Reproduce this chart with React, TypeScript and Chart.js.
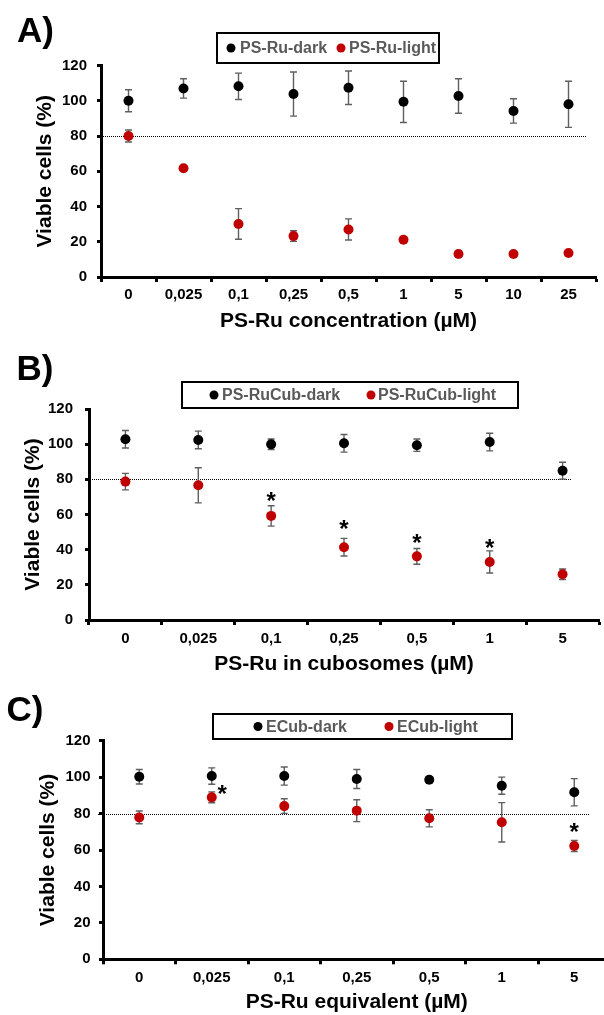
import React, { useEffect, useRef } from "react";
import { Chart, registerables } from "chart.js";

Chart.register(...registerables);

// ---------- DATA ----------
const concentrationsA = ["0", "0,025", "0,1", "0,25", "0,5", "1", "5", "10", "25"];
const psRuDark = [100, 107, 108.2, 103.8, 107.4, 99.4, 102.7, 94.2, 98];
const psRuDarkErr = [6.2, 5.5, 7.5, 12.5, 9.5, 11.7, 9.8, 6.9, 13.1];
const psRuLight = [80, 61.7, 30.1, 23.2, 27, 21.1, 13.1, 13, 13.6];
const psRuLightErr = [3.4, 1, 8.7, 3, 6, 1.5, 1.5, 1, 1];

const concentrationsB = ["0", "0,025", "0,1", "0,25", "0,5", "1", "5"];
const psRuCubDark = [102.8, 102.4, 99.9, 100.5, 99.4, 101.2, 84.9];
const psRuCubDarkErr = [5, 5, 3, 5, 3.5, 5, 4.8];
const psRuCubLight = [78.7, 76.6, 59.2, 41.4, 36.2, 33, 26];
const psRuCubLightErr = [4.7, 10, 5.8, 5, 4.5, 6.3, 3];
const starsB = [null, null, 71, 55, 47, 44, null];

const concentrationsC = ["0", "0,025", "0,1", "0,25", "0,5", "1", "5"];
const eCubDark = [100.2, 100.6, 100.6, 99, 98.6, 95.3, 91.7];
const eCubDarkErr = [4, 4.5, 5, 5.2, 1.2, 4.7, 7.5];
const eCubLight = [77.9, 88.9, 84.1, 81.6, 77.4, 75.2, 62.2];
const eCubLightErr = [3.5, 3, 4, 6, 4.7, 10.8, 3];
const starsC = [null, 94, null, null, null, null, 73];

const yMin = 0;
const yMax = 120;
const yStep = 20;
const referenceLine = 80;

// ---------- STYLE ----------
const FONT = "'Liberation Sans', Arial, sans-serif";
const DARK = "#000000";
const RED = "#C00000";
const ERR = "#5f5f5f";

type Panel = {
  letter: string;
  xTitle: string;
  labels: string[];
  datasets: { label: string; data: number[]; errors: number[]; color: string }[];
  stars: (number | null)[];
  top: number;
  width: number;
  height: number;
  padding: { top: number; right: number; bottom: number; left: number };
  yWidth: number;
  xHeight: number;
  xTitlePad: number;
  yTitlePad: number;
  yTickPad: number;
  xTickPad: number;
  letterX: number;
  letterBase: number;
  legendBox: [number, number, number, number];
  legendMarkers: number[];
  legendTexts: number[];
  refStartOff: number;
  refEnd: number;
  starDx: Record<number, number>;
};

const panels: Panel[] = [
  {
    letter: "A)",
    xTitle: "PS-Ru concentration (µM)",
    labels: concentrationsA,
    datasets: [
      { label: "PS-Ru-dark", data: psRuDark, errors: psRuDarkErr, color: DARK },
      { label: "PS-Ru-light", data: psRuLight, errors: psRuLightErr, color: RED },
    ],
    stars: concentrationsA.map(() => null),
    top: 0,
    width: 604,
    height: 340,
    padding: { top: 65.5, right: 8, bottom: 0, left: 0 },
    yWidth: 101,
    xHeight: 63,
    xTitlePad: 6.4,
    yTitlePad: 33,
    yTickPad: 10,
    xTickPad: 4,
    letterX: 17,
    letterBase: 41.7,
    legendBox: [217, 33, 222, 30],
    legendMarkers: [231, 341],
    legendTexts: [240, 349],
    refStartOff: 0,
    refEnd: 586,
    starDx: {},
  },
  {
    letter: "B)",
    xTitle: "PS-Ru in cubosomes (µM)",
    labels: concentrationsB,
    datasets: [
      { label: "PS-RuCub-dark", data: psRuCubDark, errors: psRuCubDarkErr, color: DARK },
      { label: "PS-RuCub-light", data: psRuCubLight, errors: psRuCubLightErr, color: RED },
    ],
    stars: starsB,
    top: 340,
    width: 604,
    height: 340,
    padding: { top: 69, right: 3, bottom: 0, left: 0 },
    yWidth: 89,
    xHeight: 60,
    xTitlePad: 3.4,
    yTitlePad: 20.4,
    yTickPad: 12,
    xTickPad: 5,
    letterX: 16.5,
    letterBase: 40,
    legendBox: [182, 42, 336, 26],
    legendMarkers: [214, 371],
    legendTexts: [222, 378],
    refStartOff: 3,
    refEnd: 572,
    starDx: {},
  },
  {
    letter: "C)",
    xTitle: "PS-Ru equivalent (µM)",
    labels: concentrationsC,
    datasets: [
      { label: "ECub-dark", data: eCubDark, errors: eCubDarkErr, color: DARK },
      { label: "ECub-light", data: eCubLight, errors: eCubLightErr, color: RED },
    ],
    stars: starsC,
    top: 680,
    width: 620,
    height: 335,
    padding: { top: 60.7, right: 9.5, bottom: 0, left: 0 },
    yWidth: 103,
    xHeight: 55.7,
    xTitlePad: 0,
    yTitlePad: 35.4,
    yTickPad: 8.5,
    xTickPad: 4.7,
    letterX: 6.5,
    letterBase: 40.7,
    legendBox: [213, 34, 299, 25],
    legendMarkers: [258, 389],
    legendTexts: [266, 397],
    refStartOff: -5,
    refEnd: 590,
    starDx: { 1: 10.5 },
  },
];

function makeDecor(p: Panel) {
  return {
    id: "decor",
    beforeDatasetsDraw(chart: any) {
      const ctx = chart.ctx as CanvasRenderingContext2D;
      const ys = chart.scales.y;
      const area = chart.chartArea;
      // reference dotted line
      const py = Math.round(ys.getPixelForValue(referenceLine)) + 0.5;
      ctx.save();
      ctx.strokeStyle = "#000";
      ctx.lineWidth = 1;
      ctx.setLineDash([1, 1]);
      ctx.beginPath();
      ctx.moveTo(area.left + p.refStartOff, py);
      ctx.lineTo(p.refEnd, py);
      ctx.stroke();
      ctx.restore();
      // error bars
      ctx.save();
      ctx.strokeStyle = ERR;
      ctx.lineWidth = 1.4;
      p.datasets.forEach((ds, di) => {
        const meta = chart.getDatasetMeta(di);
        ds.data.forEach((v, i) => {
          const e = ds.errors[i];
          const el = meta.data[i];
          if (!el || !e) return;
          const x = el.x;
          const t = ys.getPixelForValue(v + e);
          const b = ys.getPixelForValue(v - e);
          ctx.beginPath();
          ctx.moveTo(x, t);
          ctx.lineTo(x, b);
          ctx.moveTo(x - 3.5, t);
          ctx.lineTo(x + 3.5, t);
          ctx.moveTo(x - 3.5, b);
          ctx.lineTo(x + 3.5, b);
          ctx.stroke();
        });
      });
      ctx.restore();
    },
    afterDraw(chart: any) {
      const ctx = chart.ctx as CanvasRenderingContext2D;
      const ys = chart.scales.y;
      const xs = chart.scales.x;
      ctx.save();
      // panel letter
      ctx.fillStyle = "#000";
      ctx.font = `bold 35px ${FONT}`;
      ctx.textBaseline = "alphabetic";
      ctx.textAlign = "left";
      ctx.fillText(p.letter, p.letterX, p.letterBase);
      // legend
      const [bx, by, bw, bh] = p.legendBox;
      ctx.strokeStyle = "#000";
      ctx.lineWidth = 2;
      ctx.strokeRect(bx, by, bw, bh);
      const cy = by + bh / 2;
      p.datasets.forEach((ds, i) => {
        ctx.fillStyle = ds.color;
        ctx.beginPath();
        ctx.arc(p.legendMarkers[i], cy, 4.5, 0, Math.PI * 2);
        ctx.fill();
        ctx.fillStyle = "#595959";
        ctx.font = `bold 16px ${FONT}`;
        ctx.textBaseline = "middle";
        ctx.fillText(ds.label, p.legendTexts[i], cy + 1);
      });
      // stars
      ctx.fillStyle = "#000";
      ctx.font = `bold 24px ${FONT}`;
      ctx.textAlign = "center";
      ctx.textBaseline = "alphabetic";
      p.stars.forEach((s, i) => {
        if (s == null) return;
        const x = xs.getPixelForValue(i) + (p.starDx[i] || 0);
        const y = ys.getPixelForValue(s);
        ctx.fillText("*", x, y + 24 * 0.57);
      });
      ctx.restore();
    },
  };
}

function PanelChart({ p }: { p: Panel }) {
  const ref = useRef<HTMLCanvasElement>(null);
  useEffect(() => {
    if (!ref.current) return;
    const chart = new Chart(ref.current, {
      type: "line",
      data: {
        labels: p.labels,
        datasets: p.datasets.map((ds) => ({
          label: ds.label,
          data: ds.data,
          showLine: false,
          pointRadius: 5,
          pointHoverRadius: 5,
          pointBorderWidth: 0,
          pointBackgroundColor: ds.color,
          borderColor: ds.color,
          backgroundColor: ds.color,
        })),
      },
      options: {
        animation: false,
        responsive: false,
        devicePixelRatio: 1,
        layout: { padding: p.padding },
        plugins: {
          legend: { display: false },
          tooltip: { enabled: false },
        },
        scales: {
          x: {
            type: "category",
            offset: true,
            grid: {
              offset: true,
              drawOnChartArea: false,
              drawTicks: true,
              tickLength: 5,
              tickWidth: 3,
              tickColor: "#000",
            },
            border: { display: true, color: "#000", width: 3 },
            ticks: {
              color: "#000",
              padding: p.xTickPad,
              maxRotation: 0,
              autoSkip: false,
              font: { family: FONT, size: 15, weight: "bold" },
            },
            title: {
              display: true,
              text: p.xTitle,
              color: "#000",
              padding: { top: 0, bottom: p.xTitlePad },
              font: { family: FONT, size: 21, weight: "bold" },
            },
            afterFit: (s: any) => {
              s.height = p.xHeight;
            },
          },
          y: {
            min: yMin,
            max: yMax,
            grid: {
              drawOnChartArea: false,
              drawTicks: true,
              tickLength: 4,
              tickWidth: 3,
              tickColor: "#000",
            },
            border: { display: true, color: "#000", width: 3 },
            ticks: {
              stepSize: yStep,
              color: "#000",
              padding: p.yTickPad,
              font: { family: FONT, size: 15, weight: "bold" },
            },
            title: {
              display: true,
              text: "Viable cells (%)",
              color: "#000",
              padding: { top: p.yTitlePad, bottom: 0 },
              font: { family: FONT, size: 21, weight: "bold" },
            },
            afterFit: (s: any) => {
              s.width = p.yWidth;
            },
          },
        },
      } as any,
      plugins: [makeDecor(p)],
    });
    return () => chart.destroy();
  }, [p]);
  return (
    <canvas
      ref={ref}
      width={p.width}
      height={p.height}
      style={{ position: "absolute", left: 0, top: p.top, width: p.width, height: p.height }}
    />
  );
}

export default function App() {
  return (
    <div
      style={{
        position: "absolute",
        left: 0,
        top: 0,
        width: 604,
        height: 1015,
        overflow: "hidden",
        background: "#fff",
      }}
    >
      {panels.map((p) => (
        <PanelChart key={p.letter} p={p} />
      ))}
    </div>
  );
}
